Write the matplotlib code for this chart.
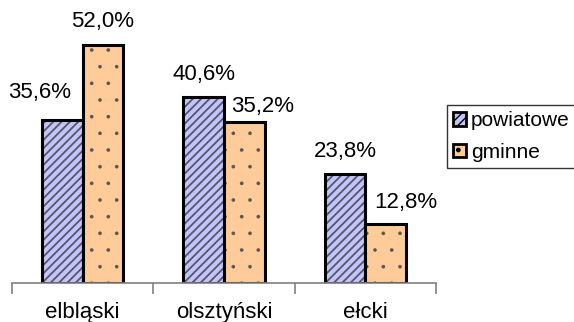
import matplotlib
matplotlib.use("Agg")
import matplotlib.pyplot as plt
import numpy as np
from matplotlib.patches import Patch

# data
categories = ["elbląski", "olsztyński", "ełcki"]
powiatowe = [35.6, 40.6, 23.8]
gminne = [52.0, 35.2, 12.8]
series_names = ["powiatowe", "gminne"]

# label offsets (pixels) as placed in the original
off_pow = [(-23, 27), (0, 22), (0, 22)]
off_gmi = [(0, 23), (18, 15), (20, 22)]

plt.rcParams['font.family'] = ['Liberation Sans', 'DejaVu Sans']

fig = plt.figure(figsize=(5.74, 3.22), dpi=100)
ax = fig.add_axes([12 / 574, 39 / 322, 424 / 574, 275 / 322])

x = np.arange(len(categories))
w = 0.287
fs = 16

def draw_bars(xs, vals, fill, hatch, hcolor, hlw):
    # hatch layer, then outline on top
    with plt.rc_context({'hatch.linewidth': hlw}):
        ax.bar(xs, vals, w, color=fill, edgecolor=hcolor, linewidth=0, hatch=hatch)
    return ax.bar(xs, vals, w, color='none', edgecolor='black', linewidth=2.2)

draw_bars(x - w / 2, powiatowe, '#c4c4fa', '////', '#55556e', 1.3)
draw_bars(x + w / 2, gminne, '#ffcc99', '.', '#555555', 0.2)

def lbl(v):
    return f"{v:.1f}%".replace('.', ',')

for i in range(len(categories)):
    ax.annotate(lbl(powiatowe[i]), (x[i] - w / 2, powiatowe[i]), xytext=off_pow[i],
                textcoords='offset pixels', ha='center', va='center', fontsize=fs)
    ax.annotate(lbl(gminne[i]), (x[i] + w / 2, gminne[i]), xytext=off_gmi[i],
                textcoords='offset pixels', ha='center', va='center', fontsize=fs)

ax.set_xlim(-0.5, 2.5)
ax.set_ylim(0, 60)
for s in ['left', 'right', 'top']:
    ax.spines[s].set_visible(False)
ax.spines['bottom'].set_color('#808080')
ax.spines['bottom'].set_linewidth(1.2)
ax.set_yticks([])
ax.set_xticks(x)
ax.set_xticklabels(categories, fontsize=fs)
ax.tick_params(axis='x', which='major', length=0, pad=14)
ax.set_xticks([-0.5, 0.5, 1.5, 2.5], minor=True)
ax.tick_params(axis='x', which='minor', length=8, width=1.2, color='#808080', direction='out')

with plt.rc_context({'hatch.linewidth': 0.8}):
    handles = [Patch(facecolor='#c4c4fa', edgecolor='black', hatch='////', linewidth=2),
               Patch(facecolor='#ffcc99', edgecolor='black', hatch='.', linewidth=2)]
leg = fig.legend(handles, series_names, loc='upper left', bbox_to_anchor=(447 / 574, 1 - 105 / 322),
                 fontsize=15, frameon=True, fancybox=False, handlelength=0.6, handleheight=0.6,
                 handletextpad=0.25, labelspacing=0.6, borderpad=0.3, borderaxespad=0)
leg.get_frame().set_edgecolor('black')
leg.get_frame().set_linewidth(1)

fig.savefig("out.png", dpi=100)
